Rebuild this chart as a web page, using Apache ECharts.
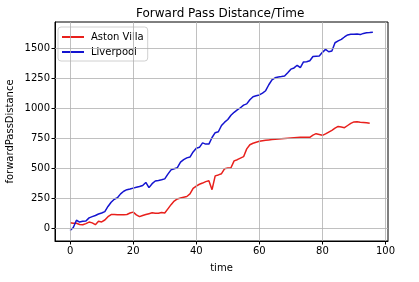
<!DOCTYPE html>
<html>
<head>
<meta charset="utf-8">
<script src="https://cdn.jsdelivr.net/npm/echarts@6/dist/echarts.min.js"></script>
<style>html,body{margin:0;padding:0;background:#fff;}#c{width:419px;height:282px;}</style>
</head>
<body>
<div id="c"></div>
<script>
const title = 'Forward Pass Distance/Time';
const xTicks = [0, 20, 40, 60, 80, 100];
const yTicks = [0, 250, 500, 750, 1000, 1250, 1500];
const astonVilla = [50,45,45,35,32,42,55,48,33,62,56,72,100,117,117,115,115,115,118,130,
  138,115,100,110,118,125,132,128,128,135,130,165,200,230,248,255,262,268,290,335,
  355,370,380,392,400,325,440,448,458,500,505,508,565,575,588,600,665,700,712,720,
  728,733,737,740,743,746,748,750,752,754,756,758,760,762,763,762,762,780,792,785,
  778,790,805,820,838,852,848,842,860,878,890,892,888,885,882,878];
const liverpool = [-15,10,70,55,62,63,90,100,110,122,130,142,185,220,245,258,290,312,325,330,
  338,345,352,360,385,342,375,397,402,408,415,455,490,500,508,555,575,590,597,640,
  670,678,715,705,705,760,800,808,860,888,910,945,970,990,1008,1030,1040,1075,1100,1108,
  1115,1130,1150,1200,1240,1258,1265,1268,1272,1300,1330,1340,1362,1342,1390,1392,1400,1435,1438,1440,
  1470,1495,1475,1482,1550,1565,1578,1598,1615,1620,1620,1622,1618,1628,1633,1635,1638];

const toPairs = arr => arr.map((v, i) => [i, v]);
const font = 'DejaVu Sans';
const chart = echarts.init(document.getElementById('c'), null, {renderer: 'canvas'});
chart.setOption({
  animation: false,
  backgroundColor: '#fff',
  title: {
    text: title, left: 136, top: 8, padding: 0,
    textStyle: {fontFamily: font, fontSize: 12, fontWeight: 'normal', color: '#000'}
  },
  legend: {
    orient: 'vertical', left: 58, top: 27,
    icon: 'rect', itemWidth: 22, itemHeight: 2, itemGap: 3,
    padding: [4, 4, 3, 4],
    borderColor: '#d0d0d0', borderWidth: 1, borderRadius: 3,
    backgroundColor: 'rgba(255,255,255,0.8)',
    textStyle: {fontFamily: font, fontSize: 10, color: '#000', padding: [0, 0, 0, 2], lineHeight: 12},
    data: ['Aston Villa', 'Liverpool']
  },
  grid: {left: 55, right: 31, top: 22, bottom: 41, show: true, borderColor: '#000', borderWidth: 1,
    containLabel: false, outerBoundsMode: 'none'},
  xAxis: {
    type: 'value', min: -4.8, max: 100.8,
    name: 'time', nameLocation: 'middle', nameGap: 22, nameMoveOverlap: false,
    nameTextStyle: {fontFamily: font, fontSize: 10, color: '#000'},
    axisLine: {show: true, onZero: false, lineStyle: {color: '#000'}},
    axisTick: {show: true, customValues: xTicks, length: 3.5, lineStyle: {color: '#000'}},
    axisLabel: {customValues: xTicks, formatter: v => String(v), fontFamily: font, fontSize: 10, color: '#000', margin: 5},
    splitLine: {show: false}
  },
  yAxis: {
    type: 'value', min: -103, max: 1723,
    name: 'forwardPassDistance', nameLocation: 'middle', nameGap: 40, nameMoveOverlap: false,
    nameTextStyle: {fontFamily: font, fontSize: 10, color: '#000'},
    axisLine: {show: true, onZero: false, lineStyle: {color: '#000'}},
    axisTick: {show: true, customValues: yTicks, length: 3.5, lineStyle: {color: '#000'}},
    axisLabel: {customValues: yTicks, formatter: v => String(v), fontFamily: font, fontSize: 10, color: '#000', margin: 5},
    splitLine: {show: false}
  },
  series: [
    {
      name: 'grid', type: 'line', data: [], silent: true,
      markLine: {
        silent: true, symbol: 'none', animation: false,
        label: {show: false},
        lineStyle: {color: '#b0b0b0', width: 0.8, type: 'solid'},
        data: xTicks.map(v => ({xAxis: v})).concat(yTicks.map(v => ({yAxis: v})))
      }
    },
    {
      name: 'Aston Villa', type: 'line', data: toPairs(astonVilla),
      showSymbol: false, symbol: 'none', color: '#e8201c',
      lineStyle: {width: 1.5, color: '#e8201c'}
    },
    {
      name: 'Liverpool', type: 'line', data: toPairs(liverpool),
      showSymbol: false, symbol: 'none', color: '#1414d0',
      lineStyle: {width: 1.5, color: '#1414d0'}
    }
  ]
});
</script>
</body>
</html>
